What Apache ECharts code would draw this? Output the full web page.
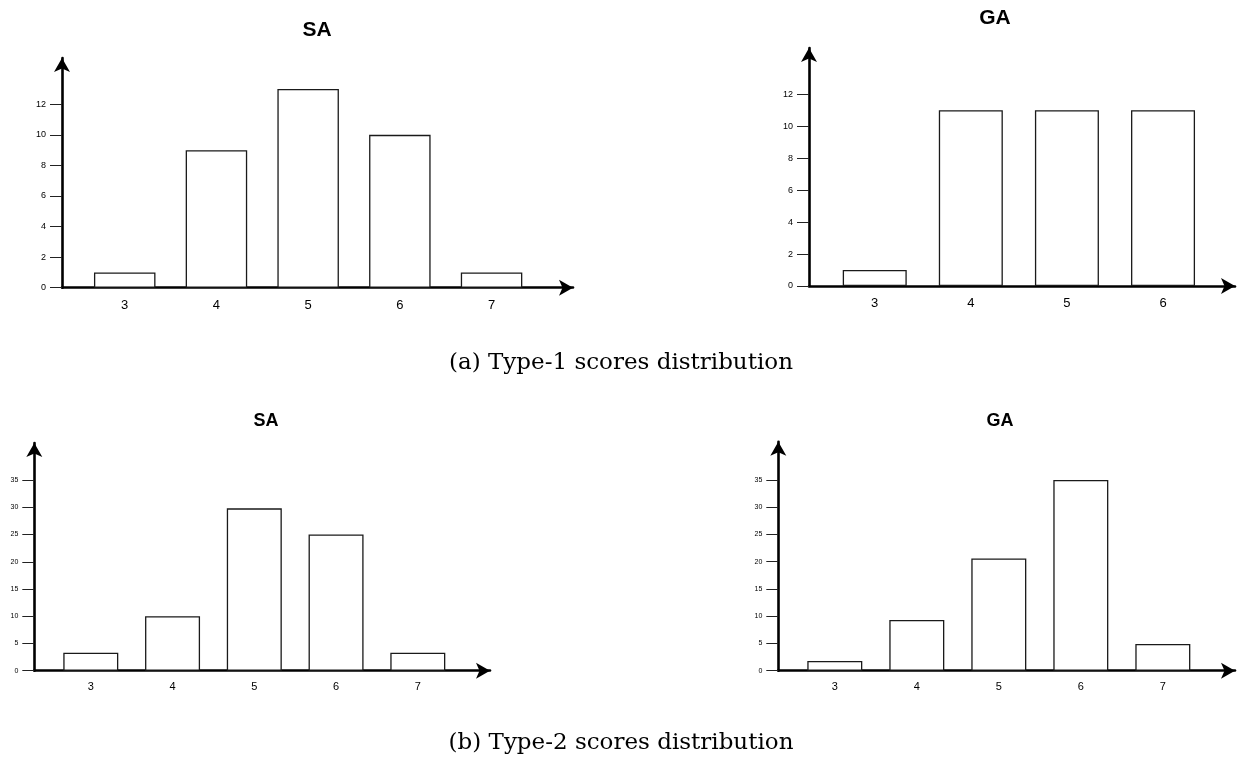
<!DOCTYPE html>
<html>
<head>
<meta charset="utf-8">
<script src="https://cdn.jsdelivr.net/npm/echarts@6/dist/echarts.min.js"></script>
<style>
  html, body { margin: 0; padding: 0; background: #fff; }
  #main { width: 1241px; height: 758px; }
</style>
</head>
<body>
<div id="main"></div>
<script>
// scores on the x axis
var scores1SA = [3, 4, 5, 6, 7];
var scores1GA = [3, 4, 5, 6];
var scores2 = [3, 4, 5, 6, 7];

// counts
var type1SA = [1, 9, 13, 10, 1];
var type1GA = [1, 11, 11, 11];
var type2SA = [3.3, 10, 29.8, 25, 3.3];
var type2GA = [1.8, 9.3, 20.6, 35, 4.9];

// tick labels
var yTicksTop = [0, 2, 4, 6, 8, 10, 12];
var yTicksBottom = [0, 5, 10, 15, 20, 25, 30, 35];

var captions = ['(a) Type-1 scores distribution', '(b) Type-2 scores distribution'];

var dom = document.getElementById('main');
var myChart = echarts.init(dom, null, {renderer: 'canvas'});

function pairs(xs, ys) {
    return xs.map(function (x, i) { return [x, ys[i]]; });
}

var axisLine = {
    show: true,
    onZero: false,
    symbol: ['none', 'arrow'],
    symbolSize: [12, 14],
    lineStyle: {color: '#000', width: 2.6}
};

function xAxis(idx, min, max, ticks, fontSize, margin) {
    return {
        type: 'value', gridIndex: idx, min: min, max: max,
        axisLine: axisLine,
        axisTick: {show: false},
        splitLine: {show: false},
        axisLabel: {
            customValues: ticks, color: '#000', fontSize: fontSize,
            fontFamily: 'Liberation Sans', margin: margin
        }
    };
}

function yAxis(idx, max, ticks, fontSize) {
    return {
        type: 'value', gridIndex: idx, min: 0, max: max,
        axisLine: axisLine,
        axisTick: {show: true, customValues: ticks, length: 12, lineStyle: {color: '#222', width: 1}},
        splitLine: {show: false},
        axisLabel: {
            customValues: ticks, color: '#000', fontSize: fontSize,
            fontFamily: 'Liberation Sans', margin: 16
        }
    };
}

function bars(idx, data, width) {
    return {
        type: 'bar', xAxisIndex: idx, yAxisIndex: idx,
        data: data, barWidth: width,
        itemStyle: {color: '#fff', borderColor: '#1a1a1a', borderWidth: 1.3},
        silent: true, animation: false
    };
}

var titleStyle = {color: '#000', fontFamily: 'Liberation Sans', fontWeight: 'bold'};
var captionStyle = {color: '#000', fontFamily: 'DejaVu Serif', fontWeight: 'normal', fontSize: 23};

option = {
    backgroundColor: '#fff',
    animation: false,
    title: [
        {text: 'SA', left: 312, top: 15, textAlign: 'center', textStyle: Object.assign({fontSize: 21}, titleStyle)},
        {text: 'GA', left: 990, top: 3, textAlign: 'center', textStyle: Object.assign({fontSize: 21}, titleStyle)},
        {text: 'SA', left: 261, top: 407, textAlign: 'center', textStyle: Object.assign({fontSize: 18}, titleStyle)},
        {text: 'GA', left: 995, top: 407, textAlign: 'center', textStyle: Object.assign({fontSize: 18}, titleStyle)},
        {text: captions[0], left: 616, top: 347, textAlign: 'center', textStyle: captionStyle},
        {text: captions[1], left: 616, top: 727, textAlign: 'center', textStyle: captionStyle}
    ],
    grid: [
        {left: 62, top: 58, width: 511, height: 229.7},
        {left: 809, top: 48, width: 426, height: 238},
        {left: 34.3, top: 443, width: 455.7, height: 227.7},
        {left: 778.3, top: 441.7, width: 456.7, height: 229}
    ],
    xAxis: [
        xAxis(0, 2.316, 7.888, scores1SA, 13, 11),
        xAxis(1, 2.316, 6.749, scores1GA, 13, 11),
        xAxis(2, 2.309, 7.883, scores2, 11, 11),
        xAxis(3, 2.311, 7.88, scores2, 11, 11)
    ],
    yAxis: [
        yAxis(0, 15.03, yTicksTop, 9),
        yAxis(1, 14.9, yTicksTop, 9),
        yAxis(2, 41.8, yTicksBottom, 7),
        yAxis(3, 42.03, yTicksBottom, 7)
    ],
    series: [
        bars(0, pairs(scores1SA, type1SA), 61.5),
        bars(1, pairs(scores1GA, type1GA), 64),
        bars(2, pairs(scores2, type2SA), 55),
        bars(3, pairs(scores2, type2GA), 55)
    ]
};

if (option && typeof option === "object") {
    myChart.setOption(option, true);
}
</script>
</body>
</html>
